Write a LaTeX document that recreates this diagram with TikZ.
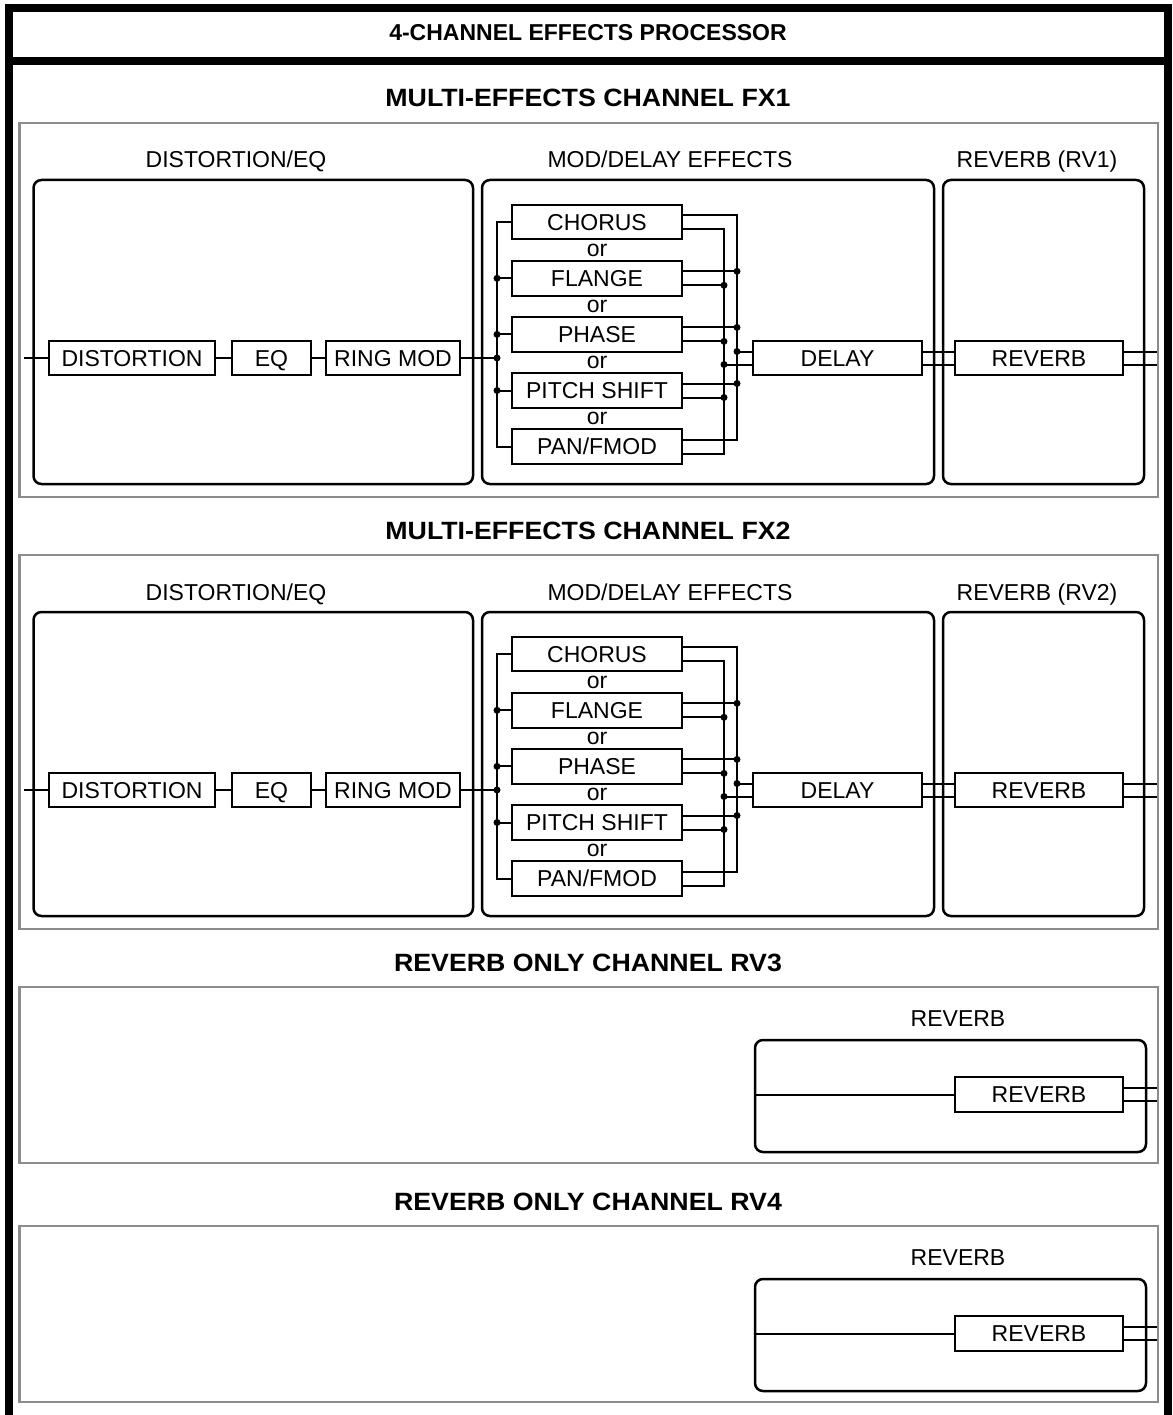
\documentclass[tikz,border=0pt]{standalone}
\usepackage{fontspec}
\usepackage{graphicx}
\setmainfont{Liberation Sans}
\definecolor{panelgray}{RGB}{140,140,140}
\begin{document}
\begin{tikzpicture}[x=1pt,y=-1pt,
  frame/.style={line width=8pt, line join=miter},
  panel/.style={draw=panelgray, line width=2.5pt},
  blk/.style={draw, line width=2.5pt, rounded corners=8pt},
  box/.style={draw, line width=2pt, fill=white, inner sep=0pt, minimum height=34.5pt, text height=16.5pt, text depth=0pt, font=\fontsize{23}{26}\selectfont},
  wire/.style={line width=2pt},
  dot/.style={circle, fill, inner sep=0pt, minimum size=7pt},
  lbl/.style={font=\fontsize{23}{26}\selectfont, inner sep=0pt, anchor=base},
  ortxt/.style={font=\fontsize{23}{26}\selectfont, inner sep=0pt, anchor=base},
  sect/.style={font=\bfseries\fontsize{25}{28}\selectfont, inner sep=0pt, anchor=base},
  ttl/.style={font=\bfseries\fontsize{23}{26}\selectfont, inner sep=0pt, anchor=base}
]
\useasboundingbox (0,0) rectangle (1172,1415);
\fill[white] (0,0) rectangle (1172,1415);
% outer frame
\draw[frame] (9,1415) -- (9,8) -- (1168,8) -- (1168,1415);
\draw[frame] (9,61) -- (1168,61);
\node[ttl] (title) at (588,41) {4-CHANNEL EFFECTS PROCESSOR};

% multi-effects channels
\foreach \o/\n in {0/1, 432/2}{
\begin{scope}[shift={(0,\o)}]
  \node[sect] (sect\n) at (588,107) {\scalebox{1.07}[1]{MULTI-EFFECTS CHANNEL FX\n}};
  \draw[panel] (19.5,123) rectangle (1158,497);
  \node[lbl] (lde\n) at (236,168) {DISTORTION/EQ};
  \node[lbl] (lmd\n) at (670,168) {MOD/DELAY EFFECTS};
  \node[lbl] (lrv\n) at (1037,168) {REVERB (RV\n)};
  \draw[blk] (33.5,180) rectangle (473,484);
  \draw[blk] (482,180) rectangle (934,484);
  \draw[blk] (943,180) rectangle (1144,484);
  \coordinate (in\n) at (24,358);
  \coordinate (lb\n) at (497,0);
  \coordinate (ob\n) at (737,0);
  \coordinate (ib\n) at (724,0);
  \coordinate (out\n) at (1157,0);
  \node[box, minimum width=166pt] (dist\n) at (132,358) {DISTORTION};
  \node[box, minimum width=79pt] (eq\n) at (271.5,358) {EQ};
  \node[box, minimum width=134pt] (rm\n) at (393,358) {RING MOD};
  \node[box, minimum width=170pt] (cho\n) at (597,222.2) {CHORUS};
  \node[box, minimum width=170pt] (fla\n) at (597,278.3) {FLANGE};
  \node[box, minimum width=170pt] (pha\n) at (597,334.4) {PHASE};
  \node[box, minimum width=170pt] (pit\n) at (597,390.5) {PITCH SHIFT};
  \node[box, minimum width=170pt] (pan\n) at (597,446.6) {PAN/FMOD};
  \node[ortxt] (or1\n) at (597,256.5) {or};
  \node[ortxt] (or2\n) at (597,312.5) {or};
  \node[ortxt] (or3\n) at (597,368.5) {or};
  \node[ortxt] (or4\n) at (597,424.5) {or};
  \node[box, minimum width=169pt] (del\n) at (837.5,358) {DELAY};
  \node[box, minimum width=168pt] (rev\n) at (1039,358) {REVERB};
  % serial chain
  \draw[wire] (in\n) -- (dist\n.west);
  \draw[wire] (dist\n.east) -- (eq\n.west);
  \draw[wire] (eq\n.east) -- (rm\n.west);
  \draw[wire] (rm\n.east) -- (rm\n.east -| lb\n) node[dot]{};
  % left bus
  \draw[wire] (cho\n.west) -- (cho\n.west -| lb\n) -- (pan\n.west -| lb\n) -- (pan\n.west);
  \foreach \b in {fla,pha,pit}{
    \draw[wire] (\b\n.west -| lb\n) node[dot]{} -- (\b\n.west);
  }
  % right buses
  \draw[wire] ([yshift=7pt]cho\n.east) -- ([yshift=7pt]cho\n.east -| ob\n) -- ([yshift=7pt]pan\n.east -| ob\n) -- ([yshift=7pt]pan\n.east);
  \draw[wire] ([yshift=-7pt]cho\n.east) -- ([yshift=-7pt]cho\n.east -| ib\n) -- ([yshift=-7pt]pan\n.east -| ib\n) -- ([yshift=-7pt]pan\n.east);
  \foreach \b in {fla,pha,pit}{
    \draw[wire] ([yshift=7pt]\b\n.east) -- ([yshift=7pt]\b\n.east -| ob\n) node[dot]{};
    \draw[wire] ([yshift=-7pt]\b\n.east) -- ([yshift=-7pt]\b\n.east -| ib\n) node[dot]{};
  }
  \draw[wire] ([yshift=6.5pt]del\n.west -| ob\n) node[dot]{} -- ([yshift=6.5pt]del\n.west);
  \draw[wire] ([yshift=-6.5pt]del\n.west -| ib\n) node[dot]{} -- ([yshift=-6.5pt]del\n.west);
  \draw[wire] ([yshift=6.5pt]del\n.east) -- ([yshift=6.5pt]rev\n.west);
  \draw[wire] ([yshift=-6.5pt]del\n.east) -- ([yshift=-6.5pt]rev\n.west);
  \draw[wire] ([yshift=6.5pt]rev\n.east) -- ([yshift=6.5pt]rev\n.east -| out\n);
  \draw[wire] ([yshift=-6.5pt]rev\n.east) -- ([yshift=-6.5pt]rev\n.east -| out\n);
\end{scope}
}

% reverb-only channels
\foreach \o/\n in {0/3, 239/4}{
\begin{scope}[shift={(0,\o)}]
  \node[sect] (sect\n) at (588,971) {\scalebox{1.07}[1]{REVERB ONLY CHANNEL RV\n}};
  \draw[panel] (19.5,987) rectangle (1158,1163);
  \node[lbl] (lr\n) at (958,1026) {REVERB};
  \draw[blk] (755,1040) rectangle (1146,1152);
  \coordinate (rin\n) at (755,1094.5);
  \coordinate (rout\n) at (1157,0);
  \node[box, minimum width=168pt] (rrev\n) at (1039,1094.5) {REVERB};
  \draw[wire] (rin\n) -- (rrev\n.west);
  \draw[wire] ([yshift=6.5pt]rrev\n.east) -- ([yshift=6.5pt]rrev\n.east -| rout\n);
  \draw[wire] ([yshift=-6.5pt]rrev\n.east) -- ([yshift=-6.5pt]rrev\n.east -| rout\n);
\end{scope}
}
\end{tikzpicture}
\end{document}
